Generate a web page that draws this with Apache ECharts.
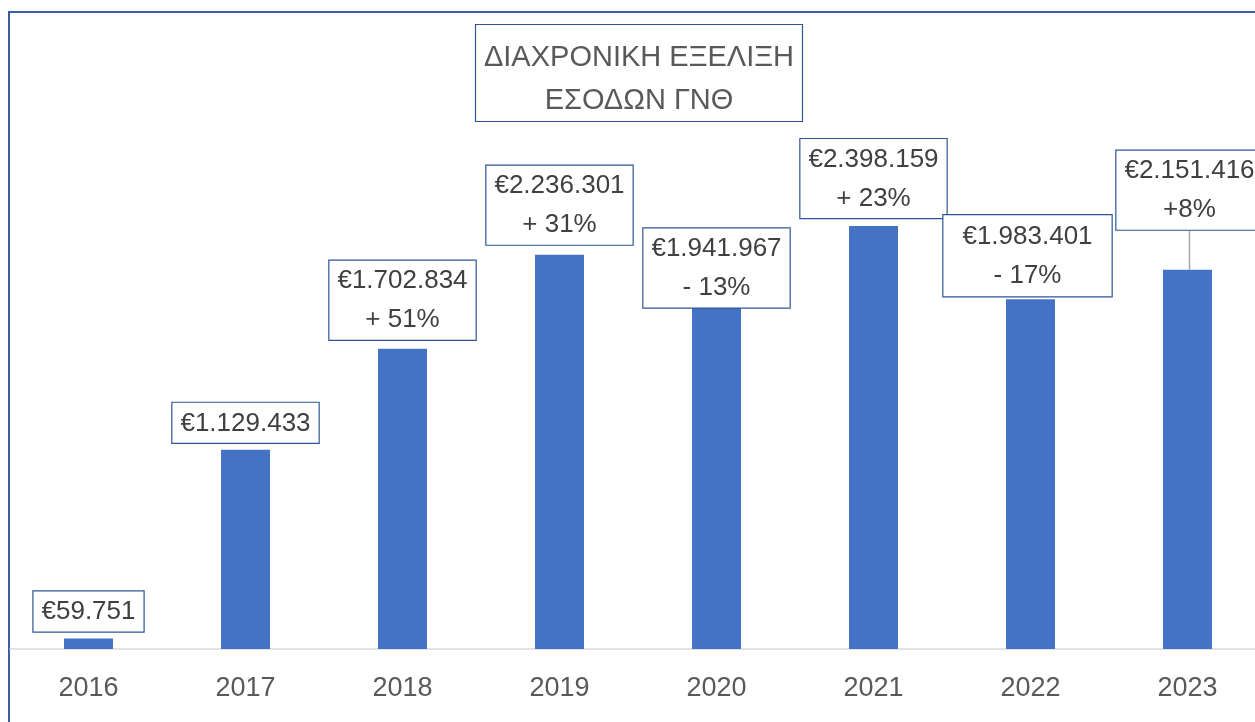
<!DOCTYPE html>
<html>
<head>
<meta charset="utf-8">
<script src="https://cdn.jsdelivr.net/npm/echarts@6/dist/echarts.min.js"></script>
<style>
  html, body { margin: 0; padding: 0; background: #fff; overflow: hidden; }
  #container { width: 1275px; height: 722px; }
</style>
</head>
<body>
<div id="container"></div>
<script>
const years = ['2016', '2017', '2018', '2019', '2020', '2021', '2022', '2023']
const incomes = [59751, 1129433, 1702834, 2236301, 1941967, 2398159, 1983401, 2151416]
const changes = ['', '', '+ 51%', '+ 31%', '- 13%', '+ 23%', '- 17%', '+8%']

// μετακίνηση ετικετών όπως στο πρωτότυπο
const labelShift = { 2: [0, -2], 3: [0, -3], 4: [0, 8], 5: [0, -1], 6: [-3, 4], 7: [2, -33] }

function euro(v) {
  return '€' + String(v).replace(/\B(?=(\d{3})+(?!\d))/g, '.')
}

let chartDom = document.getElementById('container')
let myChart = echarts.init(chartDom, null, { renderer: 'canvas' })

let option = {
  animation: false,
  title: {
    text: 'ΔΙΑΧΡΟΝΙΚΗ ΕΞΕΛΙΞΗ\nΕΣΟΔΩΝ ΓΝΘ',
    left: 630,
    top: 24,
    textAlign: 'center',
    padding: [12, 9, 0, 9],
    borderColor: '#2F5597',
    borderWidth: 1.2,
    backgroundColor: '#fff',
    textStyle: {
      fontFamily: 'Liberation Sans',
      fontWeight: 'normal',
      fontSize: 29,
      lineHeight: 43,
      color: '#595959'
    }
  },
  graphic: [
    {
      type: 'rect',
      z: -10,
      shape: { x: 9, y: 12, width: 1300, height: 800 },
      style: { fill: 'none', stroke: '#3A5DA3', lineWidth: 2 }
    }
  ],
  grid: {
    left: 10,
    top: 120,
    width: 1256,
    height: 529
  },
  xAxis: {
    type: 'category',
    data: years,
    axisLine: { lineStyle: { color: '#D9D9D9', width: 1.5 } },
    axisTick: { show: false },
    axisLabel: {
      margin: 26,
      fontFamily: 'Liberation Sans',
      fontSize: 27,
      color: '#595959'
    }
  },
  yAxis: {
    type: 'value',
    min: 0,
    max: 3000000,
    show: false,
    splitLine: { show: false }
  },
  series: [
    {
      type: 'bar',
      barWidth: 49,
      data: incomes.map(function(v, i) {
        let item = { value: v, labelLine: { show: i === 7 } }
        if (i === 6) item.label = { padding: [2, 19, 1, 19] }
        return item
      }),
      itemStyle: { color: '#4472C4' },
      label: {
        show: true,
        position: 'top',
        distance: 7,
        formatter: function(p) {
          let c = changes[p.dataIndex]
          return c ? euro(p.value) + '\n' + c : euro(p.value)
        },
        fontFamily: 'Liberation Sans',
        fontSize: 26,
        lineHeight: 39,
        color: '#404040',
        backgroundColor: '#fff',
        borderColor: '#2F5597',
        borderWidth: 1.2,
        padding: [1, 8, 0, 8]
      },
      labelLine: {
        lineStyle: { color: '#A6A6A6', width: 1.5 }
      },
      labelLayout: function(params) {
        let s = labelShift[params.dataIndex]
        return s ? { dx: s[0], dy: s[1] } : {}
      }
    }
  ]
}

option && myChart.setOption(option)
</script>
</body>
</html>
